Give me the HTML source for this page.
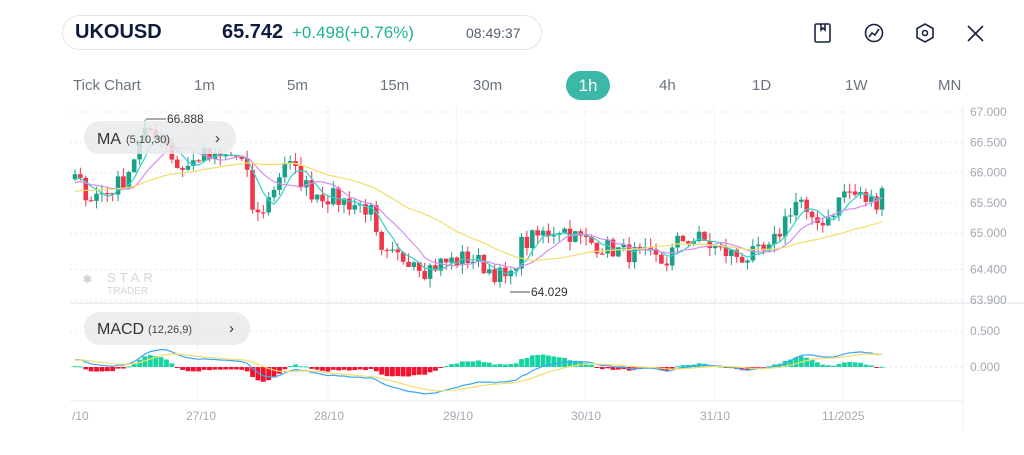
<!DOCTYPE html>
<html><head><meta charset="utf-8"><style>
body{margin:0;width:1024px;height:455px;background:#fff;font-family:"Liberation Sans",sans-serif;overflow:hidden;position:relative}
.pill{position:absolute;left:62px;top:15px;width:480px;height:35px;border:1px solid #e3e5ea;border-radius:18px;box-sizing:border-box}
.t{position:absolute;white-space:nowrap}
.tf{position:absolute;top:77px;font-size:15px;color:#6b7280}
</style></head><body>
<div class="pill"></div>
<div class="t" style="left:75px;top:21px;font-size:20px;font-weight:bold;color:#0f1b3d">UKOUSD</div>
<div class="t" style="left:222px;top:21px;font-size:20px;font-weight:bold;color:#0f1b3d">65.742</div>
<div class="t" style="left:292px;top:23px;font-size:17px;color:#1fb394">+0.498(+0.76%)</div>
<div class="t" style="left:466px;top:25px;font-size:14px;color:#555d6e">08:49:37</div>
<svg style="position:absolute;left:0;top:0" width="1024" height="60">
<g fill="none" stroke="#1a2440" stroke-width="1.6">
<rect x="815" y="24" width="15" height="18" rx="1.5"/><path d="M821 24v6l2-2 2 2v-6"/>
<circle cx="874" cy="33" r="8.5"/><path d="M869 37l3-4 3 2 4-6"/>
<path d="M925 24l8 4.5v9l-8 4.5-8-4.5v-9z"/><circle cx="925" cy="33" r="2.5"/>
<path d="M968 26l15 15M983 26l-15 15"/></g></svg>
<div class="tf" style="left:73px">Tick Chart</div>
<div class="tf" style="left:194px">1m</div>
<div class="tf" style="left:287px">5m</div>
<div class="tf" style="left:380px">15m</div>
<div class="tf" style="left:473px">30m</div>
<div class="t" style="left:566px;top:71px;width:44px;height:29px;border-radius:15px;background:#3cb8a9;color:#fff;font-size:17px;text-align:center;line-height:29px">1h</div>
<div class="tf" style="left:659px">4h</div>
<div class="tf" style="left:752px">1D</div>
<div class="tf" style="left:845px">1W</div>
<div class="tf" style="left:938px">MN</div>
<svg id="c" style="position:absolute;left:0;top:0" width="1024" height="455"></svg>
<script>
const NS="http://www.w3.org/2000/svg",S=document.getElementById('c');
function el(t,a,txt){const e=document.createElementNS(NS,t);for(const k in a)e.setAttribute(k,a[k]);if(txt!=null)e.textContent=txt;S.appendChild(e);return e}
const py=p=>112+(67-p)*60.6, my=v=>367-v*72;
[67,66.5,66,65.5,65,64.4,63.9].forEach(p=>el('line',{x1:70,x2:963,y1:py(p),y2:py(p),stroke:'#e4e6ea','stroke-dasharray':'2 3'}));
[0.5,0].forEach(v=>el('line',{x1:70,x2:963,y1:my(v),y2:my(v),stroke:'#e4e6ea','stroke-dasharray':'2 3'}));
[198,328,457,585,714,843].forEach(x=>el('line',{x1:x,x2:x,y1:105,y2:401,stroke:'#f2f3f5'}));
el('line',{x1:963,x2:963,y1:105,y2:430,stroke:'#eceef1'});
el('line',{x1:70,x2:1024,y1:303,y2:303,stroke:'#dde0e5'});
el('line',{x1:70,x2:963,y1:401,y2:401,stroke:'#eceef1'});
[['67.000',67],['66.500',66.5],['66.000',66],['65.500',65.5],['65.000',65],['64.400',64.4],['63.900',63.9]].forEach(([s,p])=>el('text',{x:970,y:py(p)+4,'font-size':12,fill:'#a3a8b2'},s));
el('text',{x:970,y:my(.5)+4,'font-size':12,fill:'#a3a8b2'},'0.500');
el('text',{x:970,y:my(0)+4,'font-size':12,fill:'#a3a8b2'},'0.000');
[['/10',72],['27/10',186],['28/10',314],['29/10',443],['30/10',571],['31/10',700],['11/2025',822]].forEach(([s,x])=>el('text',{x:x,y:420,'font-size':12,fill:'#a3a8b2'},s));
const K=[[75,65.9],[90,65.6],[110,65.7],[125,65.9],[140,66.5],[150,66.7],[165,66.6],[175,66.1],[190,66.1],[200,66.3],[215,66.2],[235,66.3],[245,66.1],[255,65.2],[270,65.6],[285,66.2],[295,66.0],[310,65.7],[330,65.6],[350,65.5],[370,65.4],[380,64.6],[395,64.6],[415,64.6],[425,64.4],[440,64.5],[470,64.6],[490,64.4],[510,64.2],[520,64.8],[545,65.0],[560,65.1],[580,64.9],[600,64.8],[620,64.7],[650,64.6],[665,64.5],[680,64.9],[700,64.9],[720,64.7],[745,64.6],[770,64.7],[790,65.4],[800,65.6],[810,65.1],[830,65.3],[845,65.7],[860,65.6],[875,65.5],[885,65.75]];
function interp(x){for(let i=0;i<K.length-1;i++)if(x<=K[i+1][0]){const t=(x-K[i][0])/(K[i+1][0]-K[i][0]);return K[i][1]+t*(K[i+1][1]-K[i][1])}return K[K.length-1][1]}
let seed=7;const rnd=()=>{seed=(seed*16807)%2147483647;return seed/2147483647};
const step=5.38,xs=[],C=[];
const pre=[];for(let i=0;i<40;i++)pre.push(65.3+i*0.015+(rnd()-.5)*.1);
for(let x=75;x<=886;x+=step){xs.push(x);C.push(interp(x)+(rnd()-.5)*0.32)}
C[C.length-1]=65.742;
const all=pre.concat(C);
function sma(n){return all.map((_,i)=>{if(i<n-1)return null;let s=0;for(let j=i-n+1;j<=i;j++)s+=all[j];return s/n}).slice(pre.length)}
function ema(a,n){const k=2/(n+1);let e=a[0];return a.map(v=>e=v*k+e*(1-k))}
let prev=pre[pre.length-1];
xs.forEach((x,i)=>{const o=prev,c=C[i];prev=c;const hi=Math.max(o,c)+rnd()*0.15,lo=Math.min(o,c)-rnd()*0.15;const col=c>=o?'#1a9f88':'#f0364a';
el('line',{x1:x,x2:x,y1:py(hi),y2:py(lo),stroke:col,'stroke-width':1});
el('rect',{x:x-2.3,y:Math.min(py(o),py(c)),width:4.6,height:Math.max(1.2,Math.abs(py(o)-py(c))),fill:col});});
function line(arr,col,f){let d='';arr.forEach((v,i)=>{if(v!=null)d+=(d?'L':'M')+xs[i].toFixed(1)+' '+f(v).toFixed(1)});el('path',{d:d,fill:'none',stroke:col,'stroke-width':1.2})}
line(sma(5),'#32d3c6',py);line(sma(10),'#d58ef0',py);line(sma(30),'#f3dd6a',py);
const e12=ema(all,12),e26=ema(all,26),macd=e12.map((v,i)=>v-e26[i]),sig=ema(macd,9);
const m=macd.slice(pre.length),sg=sig.slice(pre.length);
xs.forEach((x,i)=>{const h=(m[i]-sg[i])*1.6;el('rect',{x:x-2.4,y:Math.min(my(h),my(0)),width:4.8,height:Math.max(1,Math.abs(my(h)-my(0))),fill:h>=0?'#16d3a2':'#f5102e'})});
line(m,'#3aa6f5',my);line(sg,'#f3dd6a',my);
el('rect',{x:84,y:121,width:152,height:33,rx:16,fill:'#e9eaec','fill-opacity':.85});
el('text',{x:97,y:144,'font-size':16,fill:'#333'},'MA');
el('text',{x:126,y:143,'font-size':11,fill:'#444'},'(5,10,30)');
el('text',{x:215,y:143,'font-size':15,fill:'#333'},'›');
el('rect',{x:84,y:312,width:166,height:33,rx:16,fill:'#e9eaec','fill-opacity':.85});
el('text',{x:97,y:334,'font-size':16,fill:'#333'},'MACD');
el('text',{x:148,y:333,'font-size':11,fill:'#444'},'(12,26,9)');
el('text',{x:229,y:333,'font-size':15,fill:'#333'},'›');
el('line',{x1:146,x2:166,y1:119,y2:119,stroke:'#555'});el('text',{x:167,y:123,'font-size':12,fill:'#333'},'66.888');
el('line',{x1:510,x2:530,y1:292,y2:292,stroke:'#555'});el('text',{x:531,y:296,'font-size':12,fill:'#333'},'64.029');
el('text',{x:83,y:283,'font-size':11,fill:'#cfd2d6','font-weight':'bold'},'✱');
el('text',{x:107,y:282,'font-size':13,fill:'#d4d6da','letter-spacing':4},'STAR');
el('text',{x:107,y:294,'font-size':10,fill:'#d4d6da'},'TRADER');
</script>
</body></html>
